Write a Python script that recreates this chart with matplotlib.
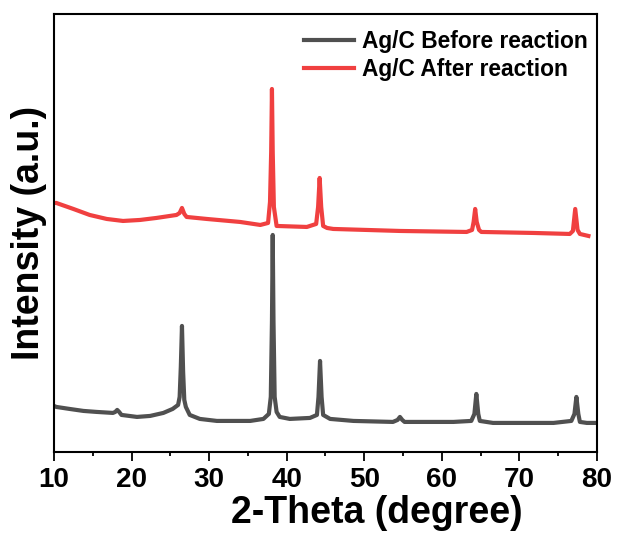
import matplotlib
matplotlib.use("Agg")
import matplotlib.pyplot as plt
from matplotlib.ticker import MultipleLocator

plt.rcParams['font.family'] = ['Liberation Sans', 'DejaVu Sans']
plt.rcParams['font.weight'] = 'bold'

# Ag/C before reaction (2-theta, intensity a.u.)
before_x = [10.0, 10.3, 12.0, 13.8, 15.5, 17.6, 17.9, 18.15, 18.4, 18.7, 20.7, 22.4, 24.1, 25.3,
            26.0, 26.2, 26.35, 26.5, 26.65, 26.8, 27.0, 27.5, 28.8, 31.0, 35.3, 37.0, 37.7,
            37.95, 38.1, 38.2, 38.3, 38.45, 38.7, 39.1, 40.4, 43.0, 43.9, 44.1, 44.3, 44.5,
            44.7, 45.6, 48.6, 53.7, 54.3, 54.6, 54.9, 55.2, 61.5, 63.8, 64.2, 64.45, 64.7,
            64.9, 66.6, 74.4, 76.7, 77.1, 77.35, 77.6, 77.8, 78.7, 80.0]
before_y = [46, 45, 43, 41, 40, 39, 40, 42, 40, 37, 35, 36, 39, 43,
            47, 55, 85, 126, 80, 52, 45, 37, 33, 31, 31, 33, 38,
            55, 130, 217, 130, 55, 40, 35, 33, 34, 37, 55, 91, 55,
            37, 33, 31, 30, 32, 35, 32, 30, 30, 31, 38, 58, 38,
            31, 29, 29, 31, 38, 55, 38, 30, 29, 29]

# Ag/C after reaction
after_x = [10.0, 10.3, 12.5, 14.6, 16.8, 18.9, 21.1, 23.2, 25.8, 26.2, 26.5, 26.8, 27.1,
           29.7, 34.0, 36.6, 37.6, 37.85, 38.0, 38.1, 38.2, 38.35, 38.7, 42.6, 43.8, 44.05,
           44.25, 44.45, 44.7, 45.2, 46.0, 54.6, 63.2, 63.9, 64.1, 64.3, 64.5, 64.8, 65.1,
           71.8, 76.5, 76.9, 77.2, 77.5, 77.8, 78.9]
after_y = [249, 249, 243, 237, 233, 231, 232, 234, 237, 239, 244, 238, 235,
           233, 230, 227, 229, 250, 300, 363, 300, 245, 226, 225, 228, 245,
           274, 245, 226, 224, 223, 221, 220, 222, 230, 243, 230, 222, 220,
           219, 218, 221, 243, 222, 218, 216]

labels = ['Ag/C Before reaction', 'Ag/C After reaction']
colors = ['#505050', '#f04040']

fig = plt.figure(figsize=(6.17, 5.38), dpi=100)
ax = fig.add_axes([0.0875, 0.160, 0.880, 0.814])

ax.plot(before_x, before_y, color=colors[0], lw=3.0, label=labels[0], solid_joinstyle='round')
ax.plot(after_x, after_y, color=colors[1], lw=3.0, label=labels[1], solid_joinstyle='round')

ax.set_xlim(10, 80)
ax.set_ylim(0, 438)
ax.set_yticks([])
ax.xaxis.set_major_locator(MultipleLocator(10))
ax.xaxis.set_minor_locator(MultipleLocator(5))
ax.tick_params(axis='x', which='major', direction='out', length=6.5, width=1.3, labelsize=20, pad=4)
ax.tick_params(axis='x', which='minor', direction='out', length=3.0, width=1.3)
for lab in ax.get_xticklabels():
    lab.set_fontweight('bold')
for s in ax.spines.values():
    s.set_linewidth(1.5)

ax.set_xlabel('2-Theta (degree)', fontsize=27, fontweight='bold', labelpad=2)
ax.xaxis.label.set_x(0.595)
ax.set_ylabel('Intensity (a.u.)', fontsize=27, fontweight='bold', labelpad=5)

leg = ax.legend(loc='upper right', bbox_to_anchor=(1.0, 0.985), frameon=False, fontsize=16.4,
                handlelength=2.2, handletextpad=0.35, labelspacing=0.22, borderaxespad=0.1,
                borderpad=0.3)
for t in leg.get_texts():
    t.set_fontweight('bold')
for h in leg.get_lines():
    h.set_linewidth(3.0)

fig.savefig('out.png', dpi=100)
